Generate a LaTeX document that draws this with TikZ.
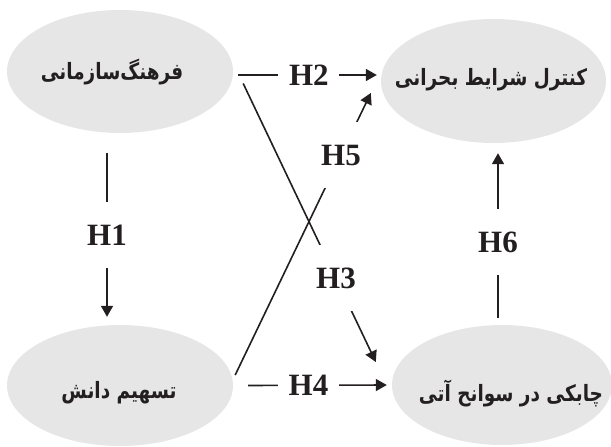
\documentclass[tikz,border=0pt]{standalone}
\usepackage{fontspec}
\setmainfont{Liberation Serif}
\newfontfamily\arabicfont[Script=Arabic]{DejaVu Sans}
\TeXXeTstate=1
\usetikzlibrary{shapes.geometric,arrows.meta}
\definecolor{bubble}{RGB}{230,230,230}
\definecolor{ink}{RGB}{35,31,32}
\newcommand{\fatext}[1]{\scalebox{0.82}[1]{\beginR #1\endR}}

\begin{document}
\begin{tikzpicture}[x=1pt,y=-1pt,
    var/.style={ellipse,fill=bubble,inner sep=0pt},
    txt/.style={font=\arabicfont\bfseries\fontsize{22.5}{26}\selectfont,text=ink},
    link/.style={draw=ink,line width=1.6pt,-{Triangle[length=11pt,width=12pt]}},
    hyp/.style={fill=white,inner sep=0pt,minimum width=61pt,minimum height=66pt,
                font=\fontsize{31}{31}\selectfont\bfseries,text=ink}]
    \useasboundingbox (0,0) rectangle (611,447);
    % variables
    \node[var,minimum width=226pt,minimum height=123pt] (culture) at (120,71.5) {};
    \node[var,minimum width=225pt,minimum height=124pt] (control) at (493.5,81) {};
    \node[var,minimum width=226pt,minimum height=121pt] (share) at (120,385.5) {};
    \node[var,minimum width=220pt,minimum height=120pt] (agility) at (502,385) {};
    \node[txt] (cultureT) at (112,72) {\fatext{فرهنگ‌سازمانی}};
    \node[txt] (controlT) at (491,80) {\fatext{کنترل شرایط بحرانی}};
    \node[txt] (shareT) at (119,393) {\fatext{تسهیم دانش}};
    \node[txt] (agilityT) at (511,393) {\fatext{چابکی در سوانح آتی}};
    % hypotheses
    \draw[link] ([shift={(-13pt,-20pt)}]culture.south) -- node[hyp] (h1) {H1} ([shift={(-13pt,8pt)}]share.north);
    \draw[link] ([shift={(5pt,-3.5pt)}]culture.east) -- node[hyp,pos=0.51] (h2) {H2} ([shift={(-4pt,6pt)}]control.west);
    \draw[link] ([shift={(10pt,-12pt)}]culture.east) -- node[hyp,pos=0.7] (h3) {H3} ([shift={(-16pt,23pt)}]agility.west);
    \draw[link] ([shift={(15pt,0pt)}]share.east) -- node[hyp,pos=0.435] (h4) {H4} ([shift={(-5pt,0pt)}]agility.west);
    \draw[link] ([shift={(2pt,10.5pt)}]share.east) -- node[hyp,pos=0.78] (h5) {H5} ([shift={(-10pt,-12pt)}]control.west);
    \draw[link] ([shift={(-4pt,7pt)}]agility.north) -- node[hyp,pos=0.46] (h6) {H6} ([shift={(4.5pt,-10pt)}]control.south);
\end{tikzpicture}
\end{document}
